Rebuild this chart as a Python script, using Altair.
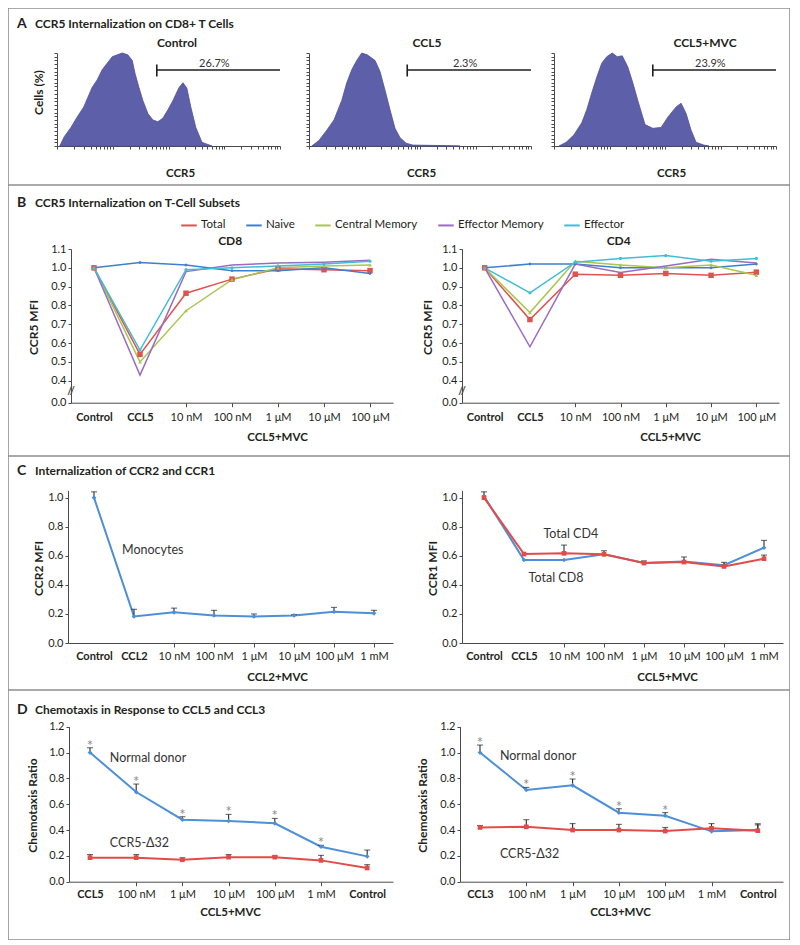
import json
import math
import altair as alt
import pandas as pd

# ---------------- Panel A: CCR5 histograms (x = decades of CCR5 fluorescence, y = % of max) ----------------
HIST_NAMES = ["Control", "CCL5", "CCL5+MVC"]
HIST_CONTROL_X = [0.05, 0.13, 0.25, 0.36, 0.48, 0.63, 0.72, 0.81, 0.90, 0.99, 1.08, 1.17, 1.27, 1.35, 1.40,
                  1.47, 1.54, 1.63, 1.72, 1.81, 1.90, 1.99, 2.08, 2.19, 2.26, 2.33, 2.40, 2.49, 2.60, 2.69, 2.78]
HIST_CONTROL_Y = [0, 10, 20, 31, 42, 63, 71, 82, 89, 96, 98, 100, 98, 92, 78,
                  63, 49, 35, 28, 26, 30, 39, 49, 63, 68, 62, 42, 20, 4, 2, 0]
HIST_CCL5_X = [0.05, 0.18, 0.32, 0.45, 0.59, 0.68, 0.77, 0.86, 0.95, 1.05, 1.19, 1.28, 1.37, 1.46, 1.55,
               1.64, 1.75, 1.87, 2.36, 2.72]
HIST_CCL5_Y = [0, 6, 17, 28, 49, 68, 82, 92, 100, 98, 92, 80, 60, 39, 19, 9, 3, 1, 0.5, 0]
HIST_MVC_X = [0.09, 0.22, 0.36, 0.50, 0.59, 0.68, 0.77, 0.86, 0.95, 1.05, 1.14, 1.23, 1.33, 1.42, 1.51,
              1.60, 1.64, 1.78, 1.93, 2.05, 2.20, 2.29, 2.38, 2.47, 2.56, 2.70, 2.79]
HIST_MVC_Y = [0, 4, 12, 25, 39, 57, 74, 89, 96, 100, 96, 97, 85, 68, 49, 31, 23, 19, 20, 31, 42, 46, 35, 17, 4, 1, 0]
GATE_START = [1.79, 1.77, 1.78]
GATE_LABELS = ["26.7%", "2.3%", "23.9%"]

# ---------------- Panel B: CCR5 MFI on T-cell subsets ----------------
B_DOSES = ["Control", "CCL5", "10 nM", "100 nM", "1 \u03bcM", "10 \u03bcM", "100 \u03bcM"]
SUBSETS = ["Total", "Naive", "Central Memory", "Effector Memory", "Effector"]
CD8_TOTAL = [1.0, 0.54, 0.865, 0.94, 0.995, 0.99, 0.985]
CD8_NAIVE = [1.0, 1.028, 1.015, 0.985, 0.985, 1.0, 0.97]
CD8_CM = [1.0, 0.50, 0.772, 0.937, 1.0, 1.01, 1.015]
CD8_EM = [1.0, 0.43, 0.98, 1.015, 1.025, 1.03, 1.04]
CD8_EFF = [1.0, 0.563, 0.99, 1.0, 1.01, 1.02, 1.035]
CD4_TOTAL = [1.0, 0.725, 0.966, 0.96, 0.97, 0.96, 0.977]
CD4_NAIVE = [1.0, 1.02, 1.02, 1.0, 1.0, 1.0, 1.02]
CD4_CM = [1.0, 0.762, 1.035, 1.015, 1.0, 1.015, 0.96]
CD4_EM = [1.0, 0.58, 1.02, 0.975, 1.01, 1.045, 1.025]
CD4_EFF = [1.0, 0.867, 1.03, 1.05, 1.065, 1.035, 1.05]
B_YTICKS = [0.0, 0.4, 0.5, 0.6, 0.7, 0.8, 0.9, 1.0, 1.1]

# ---------------- Panel C: CCR2 / CCR1 internalization ----------------
C_LEFT_DOSES = ["Control", "CCL2", "10 nM", "100 nM", "1 \u03bcM", "10 \u03bcM", "100 \u03bcM", "1 mM"]
C_RIGHT_DOSES = ["Control", "CCL5", "10 nM", "100 nM", "1 \u03bcM", "10 \u03bcM", "100 \u03bcM", "1 mM"]
CCR2_MONO = [1.0, 0.183, 0.211, 0.19, 0.183, 0.19, 0.215, 0.204]
CCR2_MONO_ERR = [0.04, 0.049, 0.029, 0.035, 0.017, 0.005, 0.03, 0.021]
CCR1_CD8 = [1.01, 0.571, 0.571, 0.61, 0.55, 0.56, 0.535, 0.656]
CCR1_CD8_ERR = [0.03, 0.0, 0.0, 0.0, 0.0, 0.0, 0.0, 0.05]
CCR1_CD4 = [1.0, 0.612, 0.617, 0.61, 0.55, 0.557, 0.527, 0.58]
CCR1_CD4_ERR = [0.0, 0.0, 0.057, 0.025, 0.015, 0.035, 0.028, 0.025]
C_YTICKS = [0.0, 0.2, 0.4, 0.6, 0.8, 1.0]

# ---------------- Panel D: chemotaxis ----------------
D_LEFT_DOSES = ["CCL5", "100 nM", "1 \u03bcM", "10 \u03bcM", "100 \u03bcM", "1 mM", "Control"]
D_RIGHT_DOSES = ["CCL3", "100 nM", "1 \u03bcM", "10 \u03bcM", "100 \u03bcM", "1 mM", "Control"]
D5_NORMAL = [1.0, 0.694, 0.48, 0.47, 0.452, 0.271, 0.196]
D5_NORMAL_ERR = [0.037, 0.062, 0.023, 0.051, 0.038, 0.01, 0.049]
D5_DELTA = [0.186, 0.186, 0.17, 0.19, 0.19, 0.165, 0.106]
D5_DELTA_ERR = [0.024, 0.024, 0.015, 0.02, 0.01, 0.039, 0.026]
D5_STAR = [1, 1, 1, 1, 1, 1, 0]
D3_NORMAL = [1.0, 0.71, 0.746, 0.534, 0.511, 0.39, 0.40]
D3_NORMAL_ERR = [0.058, 0.02, 0.049, 0.031, 0.024, 0.0, 0.049]
D3_DELTA = [0.42, 0.425, 0.40, 0.40, 0.392, 0.413, 0.395]
D3_DELTA_ERR = [0.015, 0.055, 0.05, 0.044, 0.028, 0.037, 0.045]
D3_STAR = [1, 1, 1, 1, 1, 0, 0]
D_YTICKS = [0.0, 0.2, 0.4, 0.6, 0.8, 1.0, 1.2]

SECTION_LETTERS = ["A", "B", "C", "D"]
SECTION_TITLES = ["CCR5 Internalization on CD8+ T Cells",
                  "CCR5 Internalization on T-Cell Subsets",
                  "Internalization of CCR2 and CCR1",
                  "Chemotaxis in Response to CCL5 and CCL3"]

# ---------------- styling / layout ----------------
OX = OY = 8
W, H = 782, 932
FONT = "Lato"
INK = "#231f20"
AXC = "#4a4a4a"
FRAME = "#8e8e8e"
RED = "#e14c49"
BLUE = "#4d8fd8"
ERRC = "#2b2b2b"
HIST_FILL = "#5d5fa9"
SUB_COLORS = ["#e0524f", "#3e80c9", "#a9c651", "#9a6cc0", "#41bdd6"]
SUB_SHAPES = ["square", "diamond", "triangle-up", "stroke", "circle"]
SUB_SIZES = [30, 12, 14, 14, 10]


def px(x):
    return x - OX


def py(y):
    return y - OY


def sc(domain, rng):
    return alt.Scale(domain=domain, range=rng, nice=False, zero=False)


def xaxis(y_page, values, labels=None, bold_test=None, hide_tick_test=None, title=None,
          title_x=None, title_dy=None, show_labels=True, tick_size=4, label_pad=3):
    kw = dict(orient="bottom", offset=py(y_page) - H, values=values, grid=False,
              domainColor=AXC, tickColor=AXC, tickSize=tick_size, tickWidth=1,
              labelFont=FONT, labelFontSize=11, labelColor=INK, labelPadding=label_pad,
              labelOverlap=False, labelFlush=False,
              titleFont=FONT, titleFontSize=11.5, titleFontWeight="bold", titleColor=INK)
    if show_labels and labels is not None:
        kw["labelExpr"] = json.dumps(labels, ensure_ascii=False) + "[round(datum.value)]"
    if not show_labels:
        kw["labels"] = False
    if bold_test:
        kw["labelFontWeight"] = {"condition": {"test": bold_test, "value": "bold"}, "value": "normal"}
    if hide_tick_test:
        kw["tickOpacity"] = {"condition": {"test": hide_tick_test, "value": 0}, "value": 1}
    if title:
        kw.update(title=title, titleX=px(title_x), titleY=title_dy, titleAngle=0,
                  titleAlign="center", titleBaseline="middle")
    else:
        kw["title"] = None
    return alt.Axis(**kw)


def yaxis(x_page, values, fmt=".1f", title=None, title_x=None, title_y=None,
          show_labels=True, tick_size=3):
    kw = dict(orient="left", offset=-px(x_page), values=values, grid=False,
              domainColor=AXC, tickColor=AXC, tickSize=tick_size, tickWidth=1,
              labelFont=FONT, labelFontSize=11, labelColor=INK, labelPadding=2,
              labelOverlap=False, labelFlush=False,
              titleFont=FONT, titleFontSize=12, titleFontWeight="bold", titleColor=INK)
    if show_labels:
        kw["format"] = fmt
    else:
        kw["labels"] = False
    if title:
        kw.update(title=title, titleX=title_x - x_page, titleY=py(title_y), titleAngle=270,
                  titleAlign="center", titleBaseline="middle")
    else:
        kw["title"] = None
    return alt.Axis(**kw)


def one(**cols):
    return pd.DataFrame({k: [v] for k, v in cols.items()})


# ---------------- Panel A ----------------
HIST_X = [HIST_CONTROL_X, HIST_CCL5_X, HIST_MVC_X]
HIST_Y = [HIST_CONTROL_Y, HIST_CCL5_Y, HIST_MVC_Y]
A_XR = [(57, 280), (309, 531), (554, 776)]
A_TITLE_X = [177, 427, 705]
A_CCR5_X = [180, 421, 671]
HIST_TICKS = [d + math.log10(k) for d in range(4) for k in range(1, 10)] + [4.0]


def hist_panel(k):
    x0, x1 = A_XR[k]
    xsc = sc([0, 4], [px(x0), px(x1)])
    ysc = sc([0, 100], [py(146), py(53)])
    df = pd.DataFrame({"decade": HIST_X[k], "cells": HIST_Y[k]})
    xa = xaxis(146, HIST_TICKS, show_labels=False, title="CCR5", title_x=A_CCR5_X[k],
               title_dy=27, tick_size=3)
    ya = yaxis(x0, list(range(0, 101, 4)), show_labels=False, tick_size=3,
               title="Cells (%)" if k == 0 else None, title_x=38, title_y=92)
    X = alt.X("decade:Q", scale=xsc, axis=xa)
    area = alt.Chart(df).mark_area(color=HIST_FILL, stroke="#4f519c", strokeWidth=0.8,
                                   interpolate="linear").encode(
        x=X, y=alt.Y("cells:Q", scale=ysc, axis=ya))
    g = one(gate=GATE_START[k], label=GATE_LABELS[k], name=HIST_NAMES[k])
    GX = alt.X("gate:Q", scale=xsc, axis=xa)
    hbar = alt.Chart(g).mark_rule(color="#1e1e1e", strokeWidth=1.6).encode(
        x=GX, x2=alt.X2Datum(4.0), y=alt.value(py(70)))
    vbar = alt.Chart(g).mark_rule(color="#1e1e1e", strokeWidth=1.6).encode(
        x=GX, y=alt.value(py(64.5)), y2=alt.value(py(76.5)))
    lab = alt.Chart(g).transform_calculate(mid="(datum.gate + 4) / 2").mark_text(
        font=FONT, fontSize=11, color="#333333", dx=-4, baseline="bottom").encode(
        x=alt.X("mid:Q", scale=xsc, axis=xa), y=alt.value(py(69)), text="label:N")
    ttl = alt.Chart(g).mark_text(font=FONT, fontSize=12, fontWeight="bold", color=INK).encode(
        x=alt.value(px(A_TITLE_X[k])), y=alt.value(py(43)), text="name:N")
    return alt.layer(area, hbar, vbar, lab, ttl)


# ---------------- Panel B ----------------
B_SERIES = [[CD8_TOTAL, CD8_NAIVE, CD8_CM, CD8_EM, CD8_EFF],
            [CD4_TOTAL, CD4_NAIVE, CD4_CM, CD4_EM, CD4_EFF]]
B_NAMES = ["CD8", "CD4"]
B_XR = [(71, 393), (462, 779)]
B_XTITLE = [277, 670]
B_YTITLE = [33, 427]


def b_panel(k):
    rows = []
    for s, vals in zip(SUBSETS, B_SERIES[k]):
        for i, v in enumerate(vals):
            rows.append({"subset": s, "i": i, "mfi": v})
    df = pd.DataFrame(rows)
    x0, x1 = B_XR[k]
    xsc = sc([-0.5, 6.5], [px(x0), px(x1)])
    ysc = sc([0, 0.4, 1.1], [py(402.7), py(380.7), py(249)])
    xa = xaxis(402.7, list(range(7)), labels=B_DOSES, bold_test="datum.value < 1.5",
               hide_tick_test="datum.value < 1.5", title="CCL5+MVC", title_x=B_XTITLE[k],
               title_dy=34.5, label_pad=4.5)
    ya = yaxis(x0, B_YTICKS, title="CCR5 MFI", title_x=B_YTITLE[k], title_y=327)
    X = alt.X("i:Q", scale=xsc, axis=xa)
    Y = alt.Y("mfi:Q", scale=ysc, axis=ya)
    cscale = alt.Scale(domain=SUBSETS, range=SUB_COLORS)
    if k == 0:
        leg = alt.Legend(orient="none", legendX=px(180), legendY=py(222.7) - 6.5,
                         direction="horizontal", title=None, symbolType="stroke",
                         symbolSize=240, symbolStrokeWidth=2, labelFont=FONT, labelFontSize=11.5,
                         labelColor=INK, labelOffset=3, columnPadding=16, padding=0)
    else:
        leg = None
    layers = [alt.Chart(df).mark_line(strokeWidth=1.5).encode(
        x=X, y=Y, color=alt.Color("subset:N", scale=cscale, legend=leg))]
    for s, col, shp, sz in zip(SUBSETS, SUB_COLORS, SUB_SHAPES, SUB_SIZES):
        layers.append(alt.Chart(df).transform_filter(alt.datum.subset == s).mark_point(
            filled=True, shape=shp, size=sz, color=col, opacity=1,
            strokeWidth=1.5 if shp == "stroke" else 0).encode(x=X, y=Y))
    layers.append(alt.Chart(one(t=B_NAMES[k])).mark_text(
        font=FONT, fontSize=12, fontWeight="bold", color=INK).encode(
        x=alt.XDatum(2.96, scale=xsc, axis=xa), y=alt.YDatum(1.143, scale=ysc, axis=ya), text="t:N"))
    layers.append(alt.Chart(one(t="//")).mark_text(
        font=FONT, fontSize=11, fontWeight="bold", color=AXC).encode(
        x=alt.XDatum(-0.5, scale=xsc, axis=xa), y=alt.YDatum(0.19, scale=ysc, axis=ya), text="t:N"))
    return alt.layer(*layers)


# ---------------- generic line panel with error bars (C, D) ----------------
def err_panel(doses, series, xr, x_first, step, y_dom, y_rng, yticks, axis_y, y_title, y_title_x,
              y_title_y, x_title, x_title_x, x_title_dy, bold_test, notes, stars=None):
    x0, x1 = xr
    xsc = sc([(x0 - x_first) / step, (x1 - x_first) / step], [px(x0), px(x1)])
    ysc = sc(y_dom, [py(y_rng[0]), py(y_rng[1])])
    xa = xaxis(axis_y, list(range(len(doses))), labels=doses, bold_test=bold_test,
               hide_tick_test=bold_test, title=x_title, title_x=x_title_x, title_dy=x_title_dy)
    ya = yaxis(x0, yticks, title=y_title, title_x=y_title_x, title_y=y_title_y)
    X = alt.X("i:Q", scale=xsc, axis=xa)
    layers = []
    for vals, errs, color, shape in series:
        df = pd.DataFrame({"i": list(range(len(vals))), "v": vals, "e": errs})
        df["top"] = df["v"] + df["e"]
        V = alt.Y("v:Q", scale=ysc, axis=ya)
        line = alt.Chart(df).mark_line(color=color, strokeWidth=2).encode(x=X, y=V)
        eb = df[df["e"] > 0]
        bar = alt.Chart(eb).mark_rule(color=ERRC, strokeWidth=1.1).encode(x=X, y=V, y2="top:Q")
        cap = alt.Chart(eb).mark_tick(color=ERRC, orient="horizontal", size=6, thickness=1.1).encode(
            x=X, y=alt.Y("top:Q", scale=ysc, axis=ya))
        pts = alt.Chart(df).mark_point(filled=True, shape=shape, size=22, color=color,
                                       opacity=1).encode(x=X, y=V)
        layers += [line, bar, cap, pts]
    if stars is not None:
        vals, errs, flags = stars
        sdf = pd.DataFrame({"i": list(range(len(vals))), "v": vals, "e": errs, "f": flags})
        sdf = sdf[sdf["f"] == 1].copy()
        sdf["top"] = sdf["v"] + sdf["e"]
        layers.append(alt.Chart(sdf).mark_text(text="*", font=FONT, fontSize=15, color="#8c8c8c",
                                               baseline="alphabetic", dy=3).encode(
            x=X, y=alt.Y("top:Q", scale=ysc, axis=ya)))
    for text, nx, ny, align in notes:
        layers.append(alt.Chart(one(t=text)).mark_text(font=FONT, fontSize=12.5, color="#333333",
                                                       align=align, baseline="middle").encode(
            x=alt.XDatum(nx, scale=xsc, axis=xa), y=alt.YDatum(ny, scale=ysc, axis=ya),
            text="t:N"))
    return alt.layer(*layers)


c_left = err_panel(C_LEFT_DOSES, [(CCR2_MONO, CCR2_MONO_ERR, BLUE, "diamond")],
                   (68, 393), 94, 40, [0, 1.05], (643, 490.4), C_YTICKS, 643,
                   "CCR2 MFI", 38, 568, "CCL2+MVC", 277, 34, "datum.value < 1.5",
                   [("Monocytes", 0.7, 0.64, "left")])
c_right = err_panel(C_RIGHT_DOSES, [(CCR1_CD8, CCR1_CD8_ERR, BLUE, "diamond"),
                                    (CCR1_CD4, CCR1_CD4_ERR, RED, "square")],
                    (462, 783), 484, 40, [0, 1.05], (643, 490.4), C_YTICKS, 643,
                    "CCR1 MFI", 432, 568, "CCL5+MVC", 667, 34, "datum.value < 1.5",
                    [("Total CD4", 2.17, 0.75, "center"), ("Total CD8", 1.8, 0.45, "center")])
d_left = err_panel(D_LEFT_DOSES, [(D5_NORMAL, D5_NORMAL_ERR, BLUE, "diamond"),
                                  (D5_DELTA, D5_DELTA_ERR, RED, "square")],
                   (69, 393), 90, 46.2, [0, 1.2], (881.7, 726.7), D_YTICKS, 881.7,
                   "Chemotaxis Ratio", 32, 805, "CCL5+MVC", 230, 30.5,
                   "datum.value < 0.5 || datum.value > 5.5",
                   [("Normal donor", 0.43, 0.957, "left"), ("CCR5-\u039432", 0.43, 0.30, "left")],
                   stars=(D5_NORMAL, D5_NORMAL_ERR, D5_STAR))
d_right = err_panel(D_RIGHT_DOSES, [(D3_NORMAL, D3_NORMAL_ERR, BLUE, "diamond"),
                                    (D3_DELTA, D3_DELTA_ERR, RED, "square")],
                    (460, 783), 480, 46.3, [0, 1.2], (881.7, 726.7), D_YTICKS, 881.7,
                    "Chemotaxis Ratio", 422, 805, "CCL3+MVC", 620, 30.5,
                    "datum.value < 0.5 || datum.value > 5.5",
                    [("Normal donor", 0.43, 0.974, "left"), ("CCR5-\u039432", 0.43, 0.215, "left")],
                    stars=(D3_NORMAL, D3_NORMAL_ERR, D3_STAR))

# ---------------- frame separators and section titles ----------------
deco = []
for ysep in (185, 456, 690):
    deco.append(alt.Chart(one(s=0)).mark_rule(color=FRAME, strokeWidth=1.6).encode(
        x=alt.value(0), x2=alt.value(W), y=alt.value(py(ysep))))
SECTION_Y = [24, 203, 471, 710]
for letter, title, ys in zip(SECTION_LETTERS, SECTION_TITLES, SECTION_Y):
    deco.append(alt.Chart(one(t=letter)).mark_text(font=FONT, fontSize=14, fontWeight="bold",
                                                   color=INK, align="left", baseline="middle").encode(
        x=alt.value(px(17)), y=alt.value(py(ys)), text="t:N"))
    deco.append(alt.Chart(one(t=title)).mark_text(font=FONT, fontSize=12, fontWeight="bold",
                                                  color=INK, align="left", baseline="middle").encode(
        x=alt.value(px(35)), y=alt.value(py(ys)), text="t:N"))

panels = [hist_panel(0), hist_panel(1), hist_panel(2), b_panel(0), b_panel(1),
          c_left, c_right, d_left, d_right]

chart = alt.layer(*deco, *panels).resolve_scale(
    x="independent", y="independent"
).properties(
    width=W, height=H, padding=0, background="white",
    autosize=alt.AutoSizeParams(type="none")
).configure_view(stroke=FRAME, strokeWidth=1.6)

chart.save("out.html", embed_options={"renderer": "svg", "actions": False})
